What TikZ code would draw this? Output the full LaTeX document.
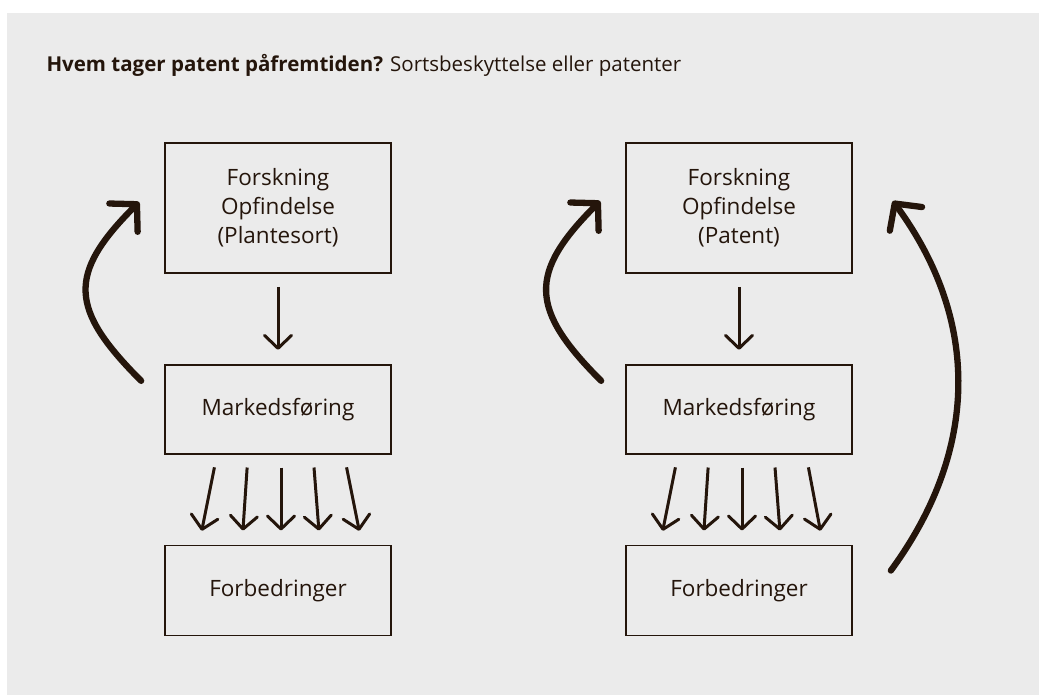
\documentclass[tikz,border=0pt]{standalone}
\usepackage{fontspec}
\setmainfont{Open Sans}
\usetikzlibrary{positioning,calc,arrows.meta}
\definecolor{ink}{HTML}{24150B}
\definecolor{paper}{HTML}{EBEBEB}

\begin{document}
\begin{tikzpicture}[x=1pt, y=-1pt,
	every node/.style={font=\fontsize{22.5}{29}\selectfont, text=ink},
	box/.style={draw=ink, line width=1.7pt, minimum width=226pt, inner sep=0pt, align=center},
	flow/.style={draw=ink, line width=3pt, -{Straight Barb[length=13pt,width=27pt,round]}, shorten <=13pt, shorten >=14pt},
	loop/.style={draw=ink, line width=6.3pt, line cap=round, -{Straight Barb[length=19pt,width=40pt,round]}},
	node distance=90pt]
	\useasboundingbox (0,0) rectangle (1039,695);
	\fill[white] (0,0) rectangle (1039,695);
	\fill[paper] (7,13) rectangle (1039,695);
	\node (title) [anchor=base west, font=\fontsize{20.5}{24}\selectfont] at (43,72) {\textbf{Hvem tager patent påfremtiden?} Sortsbeskyttelse eller patenter};
	% plant variety protection
	\node (res1) [box, minimum height=130pt] at (278,208) {Forskning\\Opfindelse\\(Plantesort)};
	\node (mark1) [box, minimum height=89pt, below=of res1] {Markedsføring};
	\node (imp1) [box, minimum height=90pt, below=of mark1] {Forbedringer};
	\draw[flow] (res1) -- (mark1);
	\foreach \a/\b in {-61/-79, -30/-36, 3/3, 35/42, 66/84}
		\draw[flow] ([xshift=\a pt]mark1.south) -- ([xshift=\b pt]imp1.north);
	\coordinate (back1a) at ($(mark1.north west)+(-23,17)$);
	\coordinate (back1b) at ($(res1.west)+(-25,-6)$);
	\draw[loop] (back1a) .. controls +(-72,-72) and +(-72,72) .. (back1b);
	% patent
	\node (res2) [box, minimum height=130pt] at (739,208) {Forskning\\Opfindelse\\(Patent)};
	\node (mark2) [box, minimum height=89pt, below=of res2] {Markedsføring};
	\node (imp2) [box, minimum height=90pt, below=of mark2] {Forbedringer};
	\draw[flow] (res2) -- (mark2);
	\foreach \a/\b in {-61/-79, -30/-36, 3/3, 35/42, 67/84}
		\draw[flow] ([xshift=\a pt]mark2.south) -- ([xshift=\b pt]imp2.north);
	\coordinate (back2a) at ($(mark2.north west)+(-24,17)$);
	\coordinate (back2b) at ($(res2.west)+(-25,-7)$);
	\draw[loop] (back2a) .. controls +(-72,-72) and +(-72,72) .. (back2b);
	\coordinate (back3a) at ($(imp2.north east)+(38,26)$);
	\coordinate (back3b) at ($(res2.east)+(40,-7)$);
	\draw[loop] (back3a) .. controls +(88,-120) and +(88,120) .. (back3b);
\end{tikzpicture}
\end{document}
